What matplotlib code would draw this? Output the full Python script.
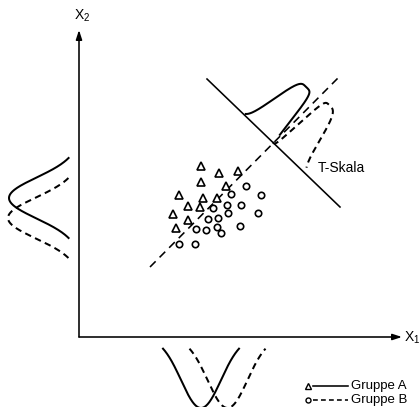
import numpy as np
import matplotlib
matplotlib.use("Agg")
import matplotlib.pyplot as plt

plt.rcParams['font.family'] = ['Liberation Sans', 'DejaVu Sans']
plt.rcParams['mathtext.fontset'] = 'custom'
plt.rcParams['mathtext.rm'] = 'Liberation Sans'
plt.rcParams['mathtext.it'] = 'Liberation Sans'

# ---- data (pixel-space coordinates) ----
grp_a_x = [201, 219, 238, 201, 226, 179, 203, 217, 188, 200, 173, 188, 176]
grp_a_y = [166, 173, 171, 182, 186, 195, 198, 198, 206, 207, 214, 220, 228]
grp_b_x = [246, 231, 261, 227, 213, 241, 228, 258, 208, 218, 196, 206, 217, 221, 240, 179, 195]
grp_b_y = [186, 194, 195, 205, 208, 205, 213, 213, 219, 218, 229, 230, 227, 233, 226, 244, 244]

origin = (79, 337)          # axes origin
x_axis_end = 402
y_axis_end = 30

disc_line = ([150, 338], [267, 78])     # dashed discriminant direction
t_line = ([207, 340], [79, 207])        # T-Skala axis

# marginal distributions (center, peak height, sigma, half range)
left_a = dict(c=198, H=70, s=20.5, r=40)
left_b = dict(c=218, H=71, s=20.5, r=40)
bot_a = dict(c=201, H=71, s=20, r=38)
bot_b = dict(c=227.5, H=71, s=20, r=38)

# distributions on the T axis (center, height, outer/inner scale & power, range)
t_a = dict(c=-17, H=63, a_l=15, p_l=3, a_r=14.5, p_r=6, t0=-40, t1=-1)
t_b = dict(c=15, H=66, a_l=10.5, p_l=6, a_r=19, p_r=3, t0=-1, t1=41)

LW = 1.15
CLW = 1.45
DASH_CURVE = (0, (3.2, 2.2))

fig = plt.figure(figsize=(4.2, 4.07), dpi=100)
ax = fig.add_axes([0, 0, 1, 1])
ax.set_xlim(0, 420)
ax.set_ylim(407, 0)
ax.axis('off')

# axes with arrows
arrow = dict(arrowstyle='-|>,head_length=0.55,head_width=0.18', lw=LW, color='k',
             shrinkA=0, shrinkB=0)
ax.annotate('', xy=(origin[0], y_axis_end), xytext=(origin[0], origin[1]), arrowprops=arrow)
ax.annotate('', xy=(x_axis_end, origin[1]), xytext=(origin[0], origin[1]), arrowprops=arrow)
ax.text(origin[0] + 3, 16, r'$\mathrm{X}_2$', fontsize=10, ha='center', va='center')
ax.text(x_axis_end + 2, origin[1] + 1, r'$\mathrm{X}_1$', fontsize=10, ha='left', va='center')

# discriminant dashed line and T line
ax.plot(*disc_line, color='k', lw=LW, ls=(0, (5, 3.5)))
ax.plot(*t_line, color='k', lw=LW)

# scatter
ax.plot(grp_a_x, grp_a_y, ls='none', marker='^', ms=5.5, mfc='white', mec='k', mew=1.2)
ax.plot(grp_b_x, grp_b_y, ls='none', marker='o', ms=4.6, mfc='white', mec='k', mew=1.2)

# left marginal (along X2)
def gauss(d, H, s):
    return H * np.exp(-d ** 2 / (2 * s ** 2))

for p, ls in ((left_a, '-'), (left_b, DASH_CURVE)):
    y = np.linspace(p['c'] - p['r'], p['c'] + p['r'], 200)
    x = origin[0] - gauss(y - p['c'], p['H'], p['s'])
    ax.plot(x, y, color='k', lw=CLW, ls=ls)

# bottom marginal (along X1)
for p, ls in ((bot_a, '-'), (bot_b, DASH_CURVE)):
    x = np.linspace(p['c'] - p['r'], p['c'] + p['r'], 200)
    y = origin[1] + gauss(x - p['c'], p['H'], p['s'])
    ax.plot(x, y, color='k', lw=CLW, ls=ls)

# T axis distributions
(x1, x2), (y1, y2) = disc_line
(u1, u2), (w1, w2) = t_line
A = np.array([[x2 - x1, -(u2 - u1)], [y2 - y1, -(w2 - w1)]])
sol = np.linalg.solve(A, np.array([u1 - x1, w1 - y1]))
ox, oy = x1 + sol[0] * (x2 - x1), y1 + sol[0] * (y2 - y1)
ud = np.array([u2 - u1, w2 - w1], float); ud /= np.linalg.norm(ud)
vd = np.array([ud[1], -ud[0]])

for p, ls in ((t_a, '-'), (t_b, DASH_CURVE)):
    t = np.linspace(p['t0'], p['t1'], 300)
    d = t - p['c']
    h = np.where(d < 0,
                 p['H'] * np.exp(-(np.abs(d) / p['a_l']) ** p['p_l']),
                 p['H'] * np.exp(-(np.abs(d) / p['a_r']) ** p['p_r']))
    px = ox + t * ud[0] + h * vd[0]
    py = oy + t * ud[1] + h * vd[1]
    ax.plot(px, py, color='k', lw=CLW, ls=ls)

ax.text(318, 168, 'T-Skala', fontsize=10, ha='left', va='center')

# legend
leg_y = [386, 400]
ax.plot([308], [leg_y[0]], marker='^', ms=4, mfc='white', mec='k', mew=1.0)
ax.plot([308], [leg_y[1]], marker='o', ms=3.6, mfc='white', mec='k', mew=1.0)
ax.plot([313, 348], [leg_y[0]] * 2, color='k', lw=LW)
ax.plot([313, 348], [leg_y[1]] * 2, color='k', lw=LW, ls=(0, (3, 2)))
ax.text(351, leg_y[0], 'Gruppe A', fontsize=9.5, ha='left', va='center')
ax.text(351, leg_y[1], 'Gruppe B', fontsize=9.5, ha='left', va='center')

fig.savefig('out.png', dpi=100, facecolor='white')
